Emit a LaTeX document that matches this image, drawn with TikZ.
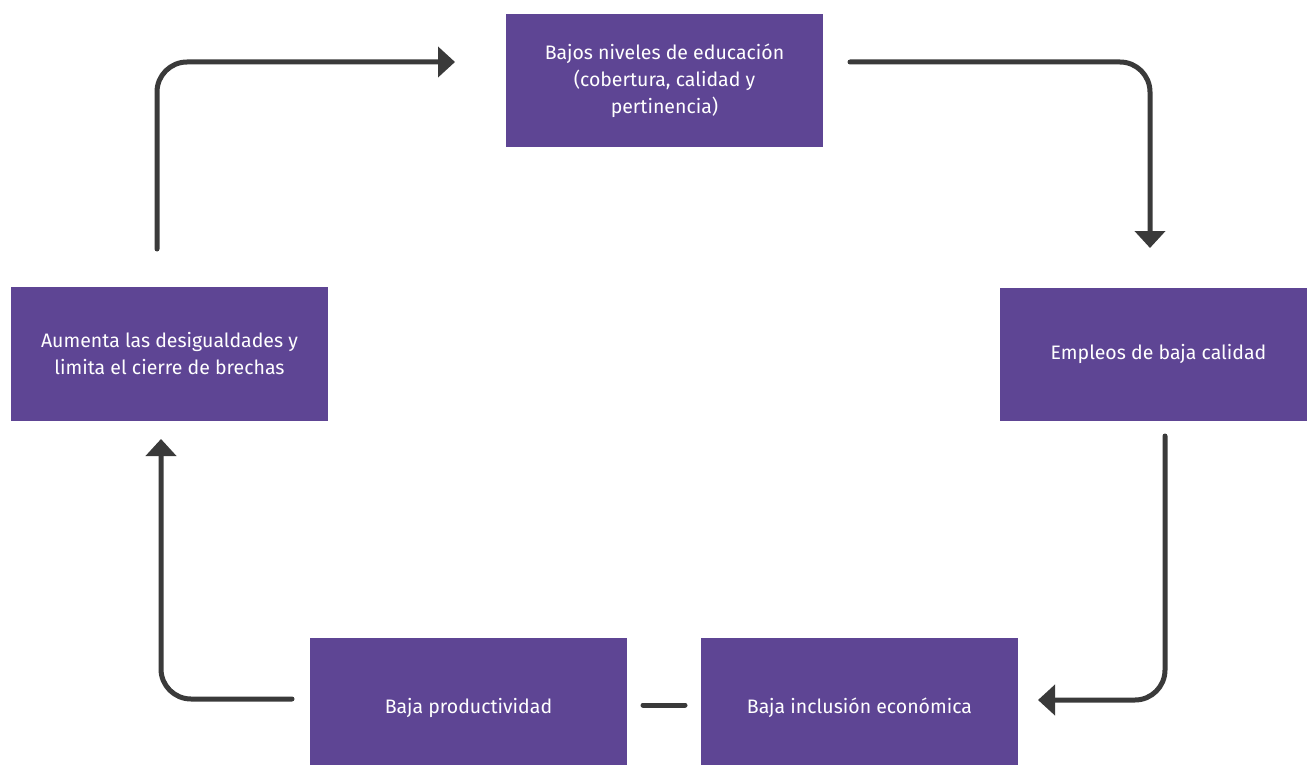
\documentclass[tikz,border=0pt]{standalone}
\usepackage{fontspec}
\setmainfont{Fira Sans}
\usetikzlibrary{arrows.meta}
\definecolor{boxpurple}{HTML}{5E4594}
\definecolor{arrowgray}{HTML}{3A3A3A}
\tikzstyle{stage}=[fill=boxpurple,text=white,minimum width=317pt,minimum height=133pt,inner sep=0pt,align=center,font=\fontsize{19.5}{27}\selectfont]
\tikzstyle{cyclearrow}=[arrowgray,line width=5pt,line cap=round,rounded corners=30pt,-{Triangle[length=17pt,width=30pt]}]
\tikzstyle{link}=[arrowgray,line width=5pt,line cap=round]
\begin{document}
\begin{tikzpicture}[x=1pt,y=-1pt]
		\useasboundingbox (0,0) rectangle (1307,765);

		\node[stage] (educ) at (664.5,81) {Bajos niveles de educación\\(cobertura, calidad y\\pertinencia)};
		\node[stage] (empleo) at (1158.5,354) {Empleos de baja calidad};
		\node[stage,minimum height=140pt] (inclusion) at (859.5,708) {Baja inclusión económica};
		\node[stage,minimum height=140pt] (product) at (468.5,708) {Baja productividad};
		\node[stage,minimum height=134pt] (desig) at (169.5,354) {Aumenta las desigualdades y\\limita el cierre de brechas};

%		free ends of the arrows
		\coordinate (p1) at (157,249);  \coordinate (q1) at (455,62);
		\coordinate (p2) at (850,62);   \coordinate (q2) at (1150,248);
		\coordinate (p3) at (1165,436); \coordinate (q3) at (1038,700);
		\coordinate (p4) at (643,705);  \coordinate (q4) at (685,705);
		\coordinate (p5) at (292,699);  \coordinate (q5) at (161,439);

		\draw[cyclearrow] (p1) |- (q1);
		\draw[cyclearrow] (p2) -| (q2);
		\draw[cyclearrow] (p3) |- (q3);
		\draw[link] (p4) -- (q4);
		\draw[cyclearrow] (p5) -| (q5);
	\end{tikzpicture}
\end{document}
